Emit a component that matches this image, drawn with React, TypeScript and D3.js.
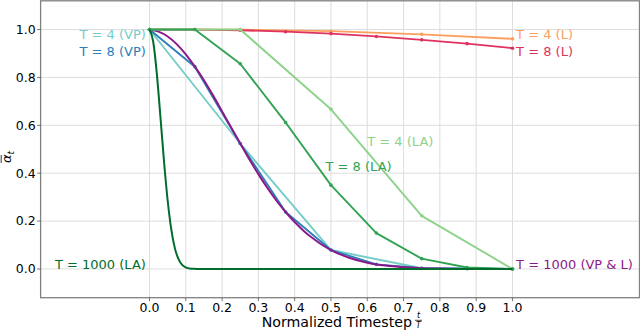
import React from 'react';
import * as d3 from 'd3';

// normalized timesteps
const steps4 = [0, 0.25, 0.5, 0.75, 1.0];
const steps8 = [0, 0.125, 0.25, 0.375, 0.5, 0.625, 0.75, 0.875, 1.0];

// T = 4 / 8 schedules
const vp4 = [1.0, 0.524, 0.079, 0.003, 0.0];
const vp8 = [1.0, 0.845, 0.524, 0.238, 0.079, 0.019, 0.003, 0.001, 0.0];
const l4 = [1.0, 1.0, 0.993, 0.980, 0.961];
const l8 = [1.0, 1.0, 0.997, 0.991, 0.983, 0.971, 0.957, 0.941, 0.922];
const la4 = [1.0, 1.0, 0.667, 0.222, 0.0];
const la8 = [1.0, 1.0, 0.857, 0.612, 0.350, 0.150, 0.043, 0.006, 0.0];

// T = 1000 VP (& L)
const vpDenseT = [0, 0.025, 0.05, 0.075, 0.1, 0.125, 0.15, 0.175, 0.2, 0.225, 0.25, 0.275, 0.3, 0.325, 0.35, 0.375, 0.4, 0.425, 0.45, 0.475, 0.5, 0.55, 0.6, 0.65, 0.7, 0.75, 0.8, 0.9, 1.0];
const vpDense = [1.0, 0.991, 0.971, 0.939, 0.896, 0.845, 0.788, 0.725, 0.658, 0.591, 0.524, 0.458, 0.396, 0.338, 0.285, 0.238, 0.196, 0.159, 0.128, 0.101, 0.079, 0.047, 0.026, 0.014, 0.007, 0.003, 0.002, 0.0, 0.0];

// T = 1000 LA
const laDenseT = [0, 0.01, 0.02, 0.03, 0.04, 0.05, 0.06, 0.07, 0.08, 0.09, 0.1, 0.11, 0.12, 0.13, 1.0];
const laDense = [1.0, 0.951, 0.819, 0.638, 0.449, 0.287, 0.165, 0.086, 0.041, 0.017, 0.007, 0.002, 0.001, 0.0, 0.0];

const xTicks = [0, 0.1, 0.2, 0.3, 0.4, 0.5, 0.6, 0.7, 0.8, 0.9, 1.0];
const yTicks = [0, 0.2, 0.4, 0.6, 0.8, 1.0];

const W = 640;
const H = 334;
const font = 'DejaVu Sans, sans-serif';

const x = d3.scaleLinear().domain([-0.3, 1.35]).range([40.6, 639.5]);
const y = d3.scaleLinear().domain([-0.12, 1.12]).range([297.7, 0.8]);

const zip = (ts: number[], vs: number[]) => ts.map((t, i) => [t, vs[i]] as [number, number]);

const series = [
  { key: 'l4', pts: zip(steps4, l4), color: '#fc9e5e', w: 1.8, dots: true },
  { key: 'l8', pts: zip(steps8, l8), color: '#e0325e', w: 1.8, dots: true },
  { key: 'vp4', pts: zip(steps4, vp4), color: '#74cdc8', w: 1.9, dots: true },
  { key: 'vp8', pts: zip(steps8, vp8), color: '#2c7fb8', w: 1.9, dots: true },
  { key: 'vp1000', pts: zip(vpDenseT, vpDense), color: '#8b1a89', w: 2, dots: false, smooth: true },
  { key: 'la4', pts: zip(steps4, la4), color: '#8dd38a', w: 1.9, dots: true },
  { key: 'la8', pts: zip(steps8, la8), color: '#31a354', w: 1.9, dots: true },
  { key: 'la1000', pts: zip(laDenseT, laDense), color: '#006d2c', w: 2, dots: false, smooth: true },
];

const labels = [
  { text: 'T = 4 (VP)', t: -0.01, v: 0.98, color: '#74cdc8', anchor: 'end' },
  { text: 'T = 8 (VP)', t: -0.01, v: 0.91, color: '#2c7fb8', anchor: 'end' },
  { text: 'T = 4 (L)', t: 1.01, v: 0.98, color: '#fc9e5e', anchor: 'start' },
  { text: 'T = 8 (L)', t: 1.01, v: 0.91, color: '#e0325e', anchor: 'start' },
  { text: 'T = 4 (LA)', t: 0.6, v: 0.532, color: '#8dd38a', anchor: 'start' },
  { text: 'T = 8 (LA)', t: 0.485, v: 0.427, color: '#31a354', anchor: 'start' },
  { text: 'T = 1000 (LA)', t: -0.01, v: 0.018, color: '#006d2c', anchor: 'end' },
  { text: 'T = 1000 (VP & L)', t: 1.01, v: 0.018, color: '#8b1a89', anchor: 'start' },
];

export default function App() {
  const straight = d3.line<[number, number]>().x(d => x(d[0])).y(d => y(d[1]));
  const smooth = d3.line<[number, number]>().x(d => x(d[0])).y(d => y(d[1])).curve(d3.curveMonotoneX);
  const [x0, x1] = x.range();
  const [yb, yt] = y.range();

  return (
    <svg width={W} height={H} style={{ position: 'absolute', left: 0, top: 0, background: '#fff' }} fontFamily={font}>
      {/* grid */}
      <g stroke='#dddddd' strokeWidth={1}>
        {xTicks.map(t => <line key={'gx' + t} x1={x(t)} x2={x(t)} y1={yt} y2={yb} />)}
        {yTicks.map(t => <line key={'gy' + t} x1={x0} x2={x1} y1={y(t)} y2={y(t)} />)}
      </g>

      {/* curves */}
      {series.map(s => (
        <g key={s.key}>
          <path d={(s.smooth ? smooth : straight)(s.pts) || ''} fill='none' stroke={s.color} strokeWidth={s.w} strokeLinejoin='round' />
          {s.dots && s.pts.map((p, i) => <circle key={i} cx={x(p[0])} cy={y(p[1])} r={1.8} fill={s.color} />)}
        </g>
      ))}

      {/* labels */}
      {labels.map(l => (
        <text key={l.text} x={x(l.t)} y={y(l.v)} dy='0.35em' fill={l.color} fontSize={13} textAnchor={l.anchor}>{l.text}</text>
      ))}

      {/* spines */}
      <rect x={x0} y={yt} width={x1 - x0} height={yb - yt} fill='none' stroke='#808080' strokeWidth={1.3} />

      {/* y axis */}
      {yTicks.map(t => (
        <g key={'ty' + t}>
          <line x1={x0 - 3.5} x2={x0} y1={y(t)} y2={y(t)} stroke='#555' strokeWidth={0.8} />
          <text x={x0 - 5} y={y(t)} dy='0.35em' textAnchor='end' fontSize={12.5} fill='#000'>{d3.format('.1f')(t)}</text>
        </g>
      ))}

      {/* x axis */}
      {xTicks.map(t => (
        <g key={'tx' + t}>
          <line x1={x(t)} x2={x(t)} y1={yb} y2={yb + 3.5} stroke='#555' strokeWidth={0.8} />
          <text x={x(t)} y={yb + 5} dy='0.71em' textAnchor='middle' fontSize={12.5} fill='#000'>{d3.format('.1f')(t)}</text>
        </g>
      ))}

      {/* x label */}
      <text x={412} y={327} textAnchor='end' fontSize={14.2} fill='#000'>Normalized Timestep</text>
      <text x={418.5} y={318.3} textAnchor='middle' fontSize={8} fontStyle='italic' fill='#000'>t</text>
      <line x1={415} x2={422} y1={320.3} y2={320.3} stroke='#000' strokeWidth={0.7} />
      <text x={418.5} y={327.5} textAnchor='middle' fontSize={8} fontStyle='italic' fill='#000'>T</text>

      {/* y label */}
      <g transform='translate(10.5,157) rotate(-90)'>
        <text x={0} y={0} textAnchor='middle' fontSize={13} fontStyle='italic' fill='#000'>
          α<tspan dy={3} fontSize={9}>t</tspan>
        </text>
        <line x1={-6} x2={2} y1={-9.3} y2={-9.3} stroke='#000' strokeWidth={0.8} />
      </g>
    </svg>
  );
}
